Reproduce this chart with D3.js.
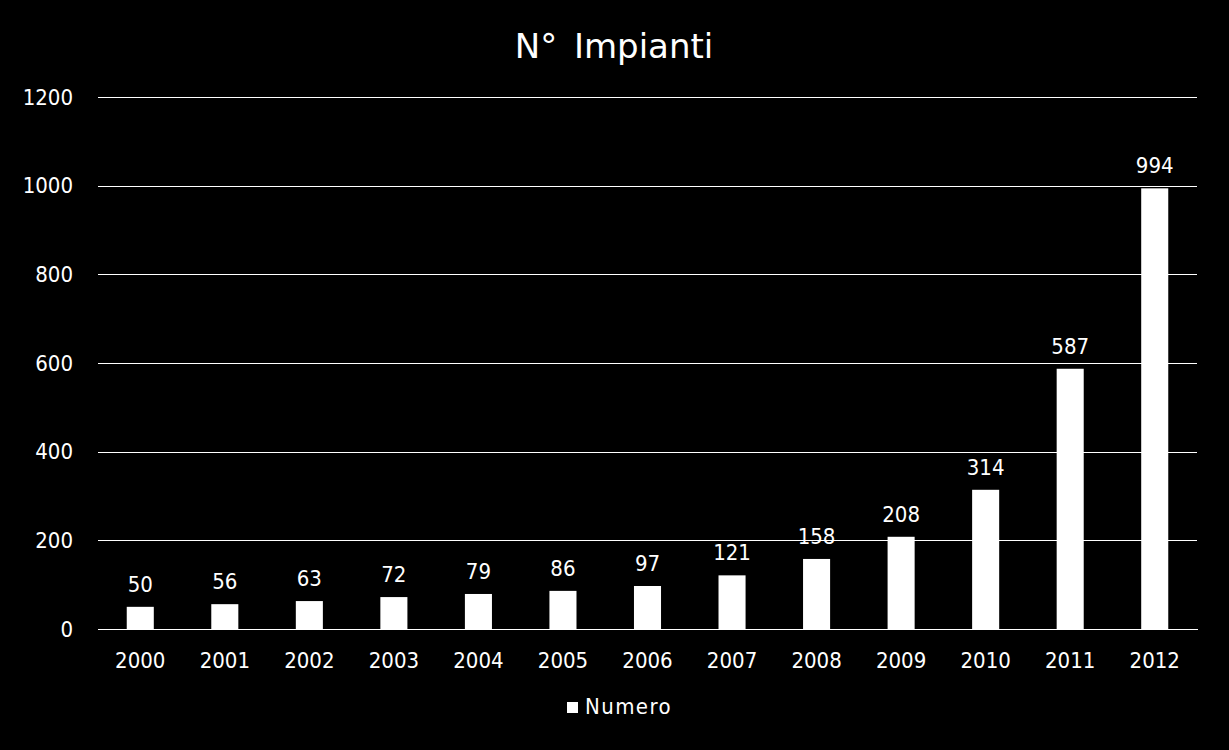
<!DOCTYPE html>
<html><head><meta charset="utf-8">
<script src="https://cdn.jsdelivr.net/npm/d3@7"></script>
<style>html,body{margin:0;padding:0;background:#000;}svg{display:block;}</style>
</head><body>
<script>
const categories = ["2000","2001","2002","2003","2004","2005","2006","2007","2008","2009","2010","2011","2012"];
const values = [50,56,63,72,79,86,97,121,158,208,314,587,994];
const yTicks = [0,200,400,600,800,1000,1200];
const seriesName = "Numero";
const title = "N° Impianti";

const W = 1229, H = 750;
const font = "'DejaVu Sans Condensed','DejaVu Sans',sans-serif";
const fontT = "'DejaVu Sans',sans-serif";
const m = {left:98, right:1197, top:97, bottom:629};
const svg = d3.select("body").append("svg").attr("width",W).attr("height",H).style("background","#000");
const x = d3.scaleBand().domain(categories).range([m.left,m.right]).paddingInner(0.68).paddingOuter(0.34);
const y = d3.scaleLinear().domain([0,1200]).range([m.bottom,m.top]);

svg.append("text").attr("x",614).attr("y",58).attr("text-anchor","middle")
  .attr("fill","#fff").style("font-family",fontT).style("font-size","34px").style("word-spacing","6px").text(title);

const ya = svg.append("g").attr("transform",`translate(${m.left},0)`)
  .call(d3.axisLeft(y).tickValues(yTicks).tickFormat(d3.format("d")).tickSize(-(m.right-m.left)).tickPadding(25));
ya.select(".domain").remove();
ya.selectAll(".tick line").attr("stroke","#fff").attr("stroke-width",1).attr("shape-rendering","crispEdges");
ya.selectAll(".tick text").attr("fill","#fff").style("font-family",font).style("font-size","22px");

const xa = svg.append("g").attr("transform",`translate(0,${m.bottom})`)
  .call(d3.axisBottom(x).tickSize(0).tickPadding(23));
xa.select(".domain").attr("stroke","#fff").attr("shape-rendering","crispEdges");
xa.selectAll(".tick text").attr("fill","#fff").style("font-family",font).style("font-size","22px");

svg.append("g").selectAll("rect").data(values).join("rect")
  .attr("x",(d,i)=>x(categories[i])).attr("width",x.bandwidth())
  .attr("y",d=>y(d)).attr("height",d=>y(0)-y(d)).attr("fill","#fff");

svg.append("g").selectAll("text").data(values).join("text")
  .attr("x",(d,i)=>x(categories[i])+x.bandwidth()/2).attr("y",d=>y(d)-15)
  .attr("text-anchor","middle").attr("fill","#fff").style("font-family",font).style("font-size","22px")
  .text(d=>d);

const lg = svg.append("g");
lg.append("rect").attr("x",567).attr("y",702).attr("width",11).attr("height",11).attr("fill","#fff");
lg.append("text").attr("x",585).attr("y",714).attr("fill","#fff").style("font-family",font).style("font-size","22px").style("letter-spacing","1.4px").text(seriesName);
</script>
</body></html>
